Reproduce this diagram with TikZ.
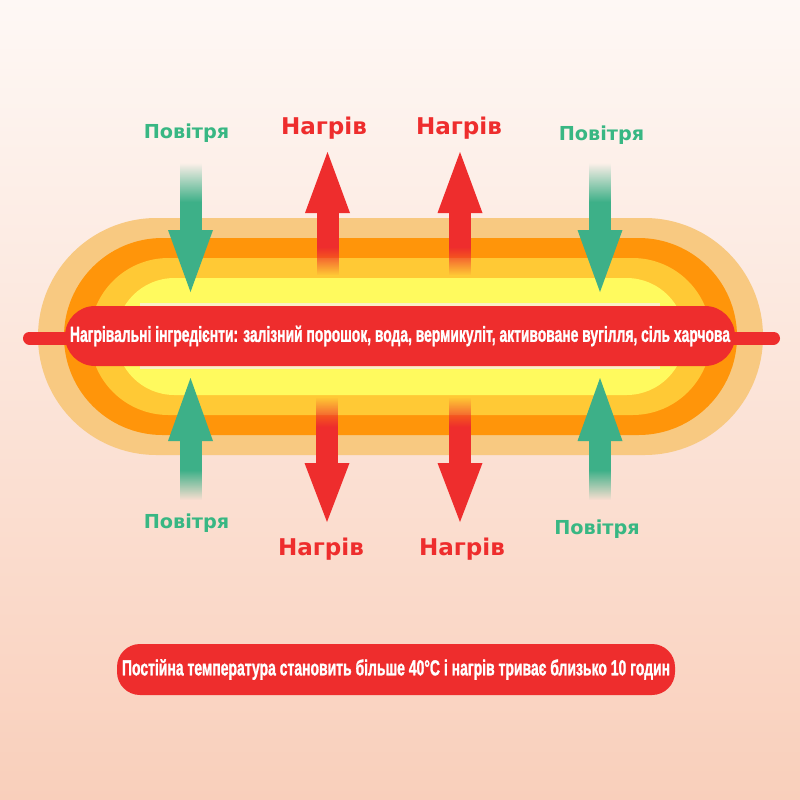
\documentclass[tikz,border=0pt]{standalone}
\usepackage{fontspec}
\usepackage{graphicx}
\usetikzlibrary{fadings}
\newfontfamily\labelfont{DejaVu Sans}
\newfontfamily\barfont{Liberation Sans Bold}[FakeBold=1.6]
\definecolor{bg-top}{HTML}{FEF8F5}
\definecolor{bg-bottom}{HTML}{F9CFBB}
\definecolor{band-outer}{HTML}{F8C981}
\definecolor{band-orange}{HTML}{FF950A}
\definecolor{band-amber}{HTML}{FFC935}
\definecolor{band-yellow}{HTML}{FFFA5E}
\definecolor{heat-red}{HTML}{EE2D2D}
\definecolor{air-green}{HTML}{3DB088}
\definecolor{label-green}{HTML}{38B783}
\definecolor{bar-rim}{HTML}{FBEFC8}
\newlength{\basiswarmerpad}
\setlength{\basiswarmerpad}{0.25cm}

\tikzfading[name=fade in top, top color=transparent!100, bottom color=transparent!0]
\tikzfading[name=fade in bottom, top color=transparent!0, bottom color=transparent!100]

% #1 x, #2 tip, #3 base of head, #4 end of solid shaft, #5 end of faded shaft, #6 colour, #7 fading
\newcommand{\flowarrow}[7]{%
  \fill[#6] ({(#1-2.25)*\basiswarmerpad},{-#3*\basiswarmerpad}) -- ({#1*\basiswarmerpad},{-#2*\basiswarmerpad}) -- ({(#1+2.25)*\basiswarmerpad},{-#3*\basiswarmerpad}) -- cycle;
  \fill[#6] ({(#1-1.1)*\basiswarmerpad},{-#3*\basiswarmerpad}) rectangle ({(#1+1.1)*\basiswarmerpad},{-#4*\basiswarmerpad});
  \fill[#6, path fading=#7] ({(#1-1.1)*\basiswarmerpad},{-#4*\basiswarmerpad}) rectangle ({(#1+1.1)*\basiswarmerpad},{-#5*\basiswarmerpad});
}

\tikzset{
  band/.style={inner sep=0pt, outer sep=0pt},
  heatbar/.style={fill=heat-red, text=white, inner sep=0pt, font=\barfont\fontsize{15.4}{17}\selectfont},
  airlabel/.style={text=label-green, anchor=base, inner sep=0pt, font=\labelfont\bfseries\fontsize{13.7}{15}\selectfont},
  heatlabel/.style={text=heat-red, anchor=base, inner sep=0pt, font=\labelfont\bfseries\fontsize{16.4}{18}\selectfont}
}

\begin{document}
\begin{tikzpicture}
    \shade[top color=bg-top, bottom color=bg-bottom] (0,0) rectangle (80\basiswarmerpad,-80\basiswarmerpad);
    \useasboundingbox (0,0) rectangle (80\basiswarmerpad,-80\basiswarmerpad);

    % warm layers of the pad
    \draw (40.05\basiswarmerpad,-33.65\basiswarmerpad) 
		node[band, fill=band-outer, minimum width=72.5\basiswarmerpad, minimum height=23.7\basiswarmerpad, rounded corners=11.85\basiswarmerpad] 
			(band-outer) {};

    \draw (40.05\basiswarmerpad,-33.65\basiswarmerpad) 
		node[band, fill=band-orange, minimum width=67.3\basiswarmerpad, minimum height=19.7\basiswarmerpad, rounded corners=9.85\basiswarmerpad] 
			(band-orange) {};

    \draw (40.05\basiswarmerpad,-33.65\basiswarmerpad) 
		node[band, fill=band-amber, minimum width=62.1\basiswarmerpad, minimum height=15.7\basiswarmerpad, rounded corners=7.85\basiswarmerpad] 
			(band-amber) {};

    \draw (40.05\basiswarmerpad,-33.65\basiswarmerpad) 
		node[band, fill=band-yellow, minimum width=56.9\basiswarmerpad, minimum height=11.7\basiswarmerpad, rounded corners=5.85\basiswarmerpad] 
			(band-yellow) {};

    \fill[bar-rim] (14\basiswarmerpad,-30.3\basiswarmerpad) rectangle (66\basiswarmerpad,-36.9\basiswarmerpad);

    % rod through the pad
    \coordinate (rod-west) at (2.95\basiswarmerpad,-33.8\basiswarmerpad);
    \coordinate (rod-east) at (77.35\basiswarmerpad,-33.8\basiswarmerpad);
    \draw[heat-red, line width=1.3\basiswarmerpad, line cap=round] (rod-west) -- (rod-east);

    \draw (40.0\basiswarmerpad,-33.6\basiswarmerpad) 
		node[heatbar, minimum width=67.0\basiswarmerpad, minimum height=6.0\basiswarmerpad, rounded corners=3.0\basiswarmerpad] 
			(ingredient-bar) {\resizebox{16.5cm}{\height}{Нагрівальні інгредієнти: залізний порошок, вода, вермикуліт, активоване вугілля, сіль харчова}};

    % air in, heat out
    \flowarrow{19.05}{29.2}{23.0}{20.2}{16.3}{air-green}{fade in top}
    \flowarrow{60.0}{29.2}{23.0}{20.2}{16.3}{air-green}{fade in top}
    \flowarrow{32.75}{15.2}{21.3}{24.7}{27.5}{heat-red}{fade in bottom}
    \flowarrow{46.0}{15.2}{21.3}{24.7}{27.5}{heat-red}{fade in bottom}
    \flowarrow{19.05}{37.8}{44.1}{47.0}{50.0}{air-green}{fade in bottom}
    \flowarrow{60.0}{37.8}{44.1}{47.0}{50.0}{air-green}{fade in bottom}
    \flowarrow{32.7}{52.2}{46.3}{42.7}{39.7}{heat-red}{fade in top}
    \flowarrow{46.0}{52.2}{46.3}{42.7}{39.7}{heat-red}{fade in top}

    \draw (18.65\basiswarmerpad,-13.8\basiswarmerpad) node[airlabel] (air-top-west) {Повітря};
    \draw (32.4\basiswarmerpad,-13.4\basiswarmerpad) node[heatlabel] (heat-top-west) {Нагрів};
    \draw (45.9\basiswarmerpad,-13.4\basiswarmerpad) node[heatlabel] (heat-top-east) {Нагрів};
    \draw (60.15\basiswarmerpad,-14.0\basiswarmerpad) node[airlabel] (air-top-east) {Повітря};
    \draw (18.65\basiswarmerpad,-52.8\basiswarmerpad) node[airlabel] (air-bottom-west) {Повітря};
    \draw (32.1\basiswarmerpad,-55.5\basiswarmerpad) node[heatlabel] (heat-bottom-west) {Нагрів};
    \draw (46.2\basiswarmerpad,-55.5\basiswarmerpad) node[heatlabel] (heat-bottom-east) {Нагрів};
    \draw (59.7\basiswarmerpad,-53.4\basiswarmerpad) node[airlabel] (air-bottom-east) {Повітря};

    \draw (39.6\basiswarmerpad,-66.95\basiswarmerpad) 
		node[heatbar, minimum width=55.8\basiswarmerpad, minimum height=5.1\basiswarmerpad, rounded corners=2.3\basiswarmerpad] 
			(duration-bar) {\resizebox{13.7cm}{\height}{Постійна температура становить більше 40°C і нагрів триває близько 10 годин}};
\end{tikzpicture}
\end{document}
